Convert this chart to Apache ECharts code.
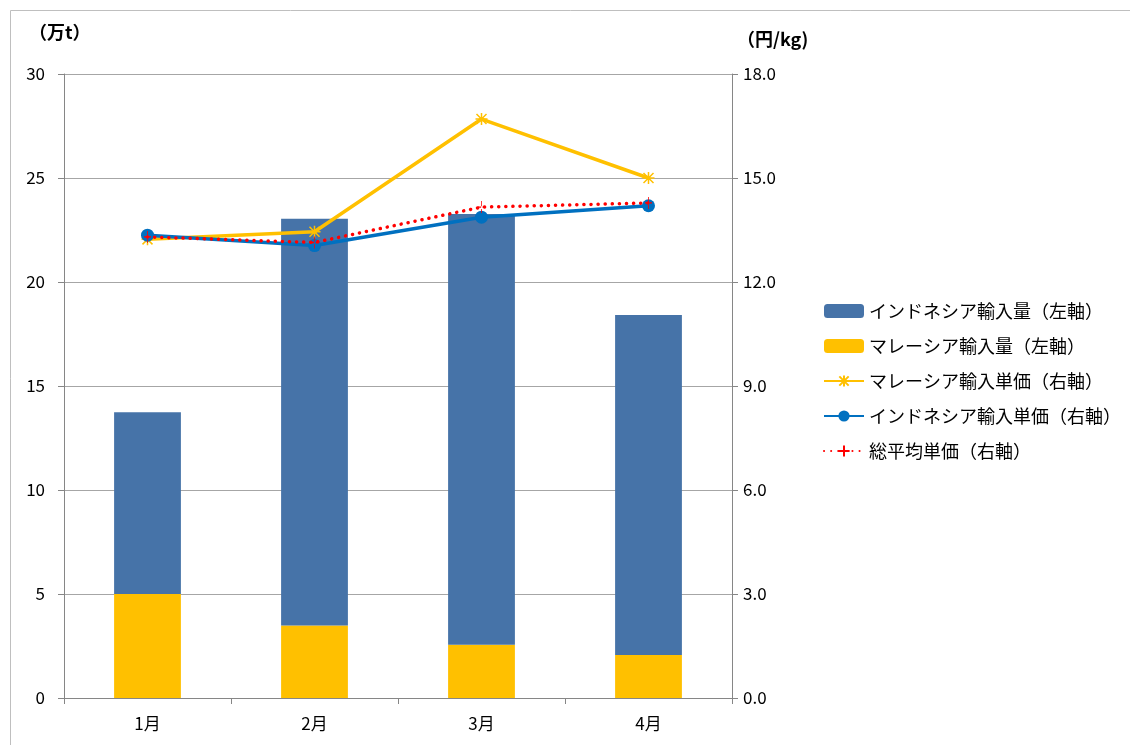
<!DOCTYPE html>
<html>
<head>
<meta charset="utf-8">
<script src="https://cdn.jsdelivr.net/npm/echarts@6/dist/echarts.min.js"></script>
<style>
  html, body { margin: 0; padding: 0; background: #fff; }
  #chart { width: 1130px; height: 745px; }
</style>
</head>
<body>
<div id="chart"></div>
<script>
// Monthly palm imports: volumes (10k t, stacked) and unit prices (yen/kg)
const months = ['1月', '2月', '3月', '4月'];
const indonesiaVolume = [8.74, 19.56, 20.71, 16.34];
const malaysiaVolume = [5.0, 3.48, 2.56, 2.07];
const malaysiaPrice = [13.23, 13.45, 16.70, 15.0];
const indonesiaPrice = [13.35, 13.05, 13.87, 14.2];
const averagePrice = [13.3, 13.14, 14.16, 14.28];
const leftTicks = { min: 0, max: 30, interval: 5 };
const rightTicks = { min: 0, max: 18, interval: 3 };

const FONT = '"Noto Sans CJK JP", "Noto Sans", sans-serif';
const starPath = 'path://M-5,-5L5,5M5,-5L-5,5M0,-6L0,6M-6,0L6,0';
const plusPath = 'path://M0,-6L0,6M-3,0L3,0';

const chart = echarts.init(document.getElementById('chart'));
chart.setOption({
  animation: false,
  textStyle: { fontFamily: FONT },
  grid: { left: 64, right: 398, top: 74, bottom: 47, containLabel: false },
  graphic: [
    {
      type: 'rect', silent: true,
      shape: { x: 10.5, y: 10.5, width: 1130, height: 740 },
      style: { fill: 'none', stroke: '#BFBFBF', lineWidth: 1 }
    },
    {
      type: 'text', left: 29, top: 23,
      style: { text: '（万t）', font: 'bold 18px ' + FONT, fill: '#000' }
    },
    {
      type: 'text', left: 737, top: 30,
      style: { text: '（円/kg)', font: 'bold 18px ' + FONT, fill: '#000' }
    }
  ],
  legend: {
    orient: 'vertical',
    left: 818,
    top: 296,
    itemWidth: 40,
    itemHeight: 14,
    itemGap: 15,
    textStyle: { fontSize: 18, color: '#000', fontFamily: FONT, lineHeight: 20 },
    data: [
      'インドネシア輸入量（左軸）',
      'マレーシア輸入量（左軸）',
      'マレーシア輸入単価（右軸）',
      'インドネシア輸入単価（右軸）',
      '総平均単価（右軸）'
    ]
  },
  xAxis: {
    type: 'category',
    data: months,
    axisLine: { lineStyle: { color: '#868686', width: 1 } },
    axisTick: { show: true, length: 6, lineStyle: { color: '#868686' } },
    axisLabel: { fontSize: 17, color: '#000', margin: 17 }
  },
  yAxis: [
    {
      type: 'value',
      min: leftTicks.min, max: leftTicks.max, interval: leftTicks.interval,
      axisLine: { show: true, lineStyle: { color: '#868686' } },
      axisTick: { show: true, length: 6, lineStyle: { color: '#868686' } },
      axisLabel: { fontSize: 17, color: '#000', margin: 19 },
      splitLine: { lineStyle: { color: '#A6A6A6', width: 1 } }
    },
    {
      type: 'value',
      position: 'right',
      min: rightTicks.min, max: rightTicks.max, interval: rightTicks.interval,
      axisLine: { show: true, lineStyle: { color: '#868686' } },
      axisTick: { show: true, length: 6, lineStyle: { color: '#868686' } },
      axisLabel: { fontSize: 17, color: '#000', margin: 11, formatter: v => v.toFixed(1) },
      splitLine: { show: false }
    }
  ],
  series: [
    {
      name: 'マレーシア輸入量（左軸）',
      type: 'bar', stack: 'vol', yAxisIndex: 0,
      barWidth: '40%',
      itemStyle: { color: '#FFC000' },
      data: malaysiaVolume
    },
    {
      name: 'インドネシア輸入量（左軸）',
      type: 'bar', stack: 'vol', yAxisIndex: 0,
      barWidth: '40%',
      itemStyle: { color: '#4673A8' },
      data: indonesiaVolume
    },
    {
      name: 'マレーシア輸入単価（右軸）',
      type: 'line', yAxisIndex: 1,
      symbol: starPath, symbolSize: 12, showSymbol: true,
      lineStyle: { color: '#FFC000', width: 3.5 },
      itemStyle: { color: 'none', borderColor: '#FFC000', borderWidth: 1.5 },
      data: malaysiaPrice, z: 3
    },
    {
      name: 'インドネシア輸入単価（右軸）',
      type: 'line', yAxisIndex: 1,
      symbol: 'circle', symbolSize: 13,
      lineStyle: { color: '#0070C0', width: 3.5 },
      itemStyle: { color: '#0070C0' },
      data: indonesiaPrice, z: 4
    },
    {
      name: '総平均単価（右軸）',
      type: 'line', yAxisIndex: 1,
      symbol: plusPath, symbolSize: [7, 12],
      lineStyle: { color: '#FF0000', width: 3.5, type: [0.1, 7], cap: 'round' },
      itemStyle: { color: 'none', borderColor: '#FF0000', borderWidth: 1, borderType: 'dashed' },
      data: averagePrice, z: 5
    }
  ]
});
</script>
</body>
</html>
